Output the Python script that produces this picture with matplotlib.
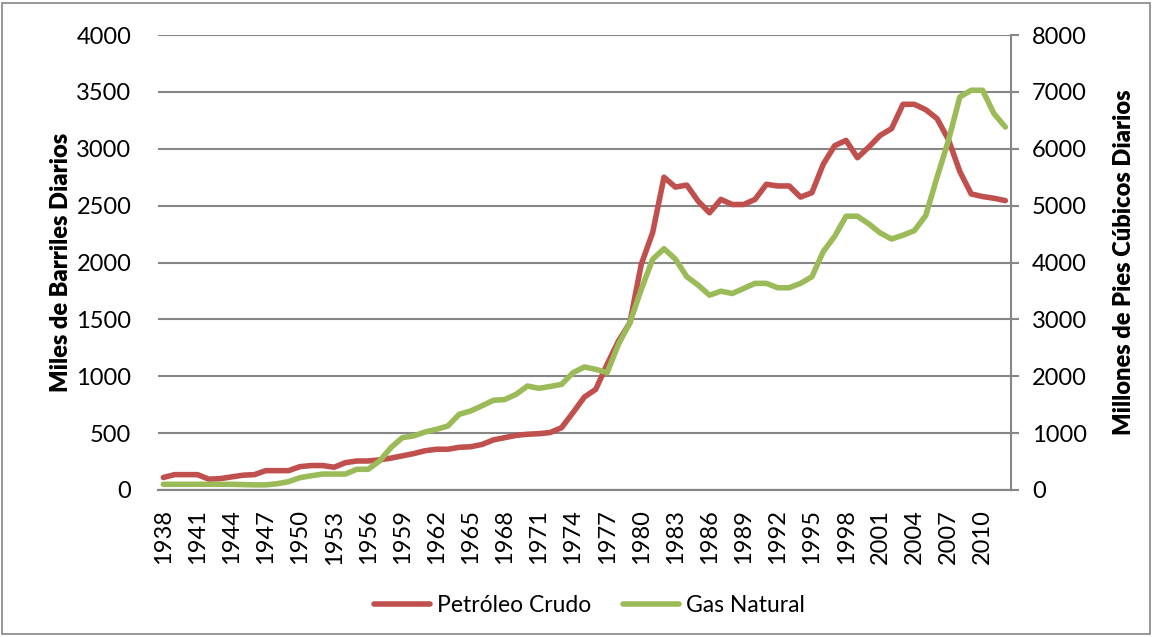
import matplotlib
matplotlib.use("Agg")
import matplotlib.pyplot as plt
from matplotlib.patches import Rectangle

# Años 1938-2012
years = list(range(1938, 2013))

# Petróleo crudo, miles de barriles diarios (eje izquierdo)
petroleo = [110, 135, 135, 135, 95, 100, 115, 130, 135, 170,
            170, 170, 205, 215, 215, 200, 240, 255, 255, 265,
            280, 300, 320, 345, 358, 358, 375, 380, 400, 440,
            460, 480, 490, 495, 505, 548, 680, 817, 885, 1105,
            1310, 1470, 1984, 2262, 2750, 2663, 2681, 2540, 2437, 2555,
            2510, 2510, 2555, 2688, 2673, 2673, 2575, 2614, 2865, 3027,
            3074, 2921, 3015, 3118, 3177, 3391, 3391, 3344, 3265, 3080,
            2800, 2603, 2580, 2565, 2544]

# Gas natural, millones de pies cúbicos diarios (eje derecho)
gas = [100, 100, 100, 100, 100, 100, 100, 95, 90, 90,
       110, 146, 216, 250, 280, 280, 280, 364, 364, 510,
       744, 920, 950, 1020, 1067, 1125, 1331, 1389, 1480, 1577,
       1590, 1682, 1828, 1788, 1820, 1858, 2062, 2162, 2122, 2062,
       2562, 2941, 3528, 4056, 4243, 4060, 3750, 3603, 3425, 3496,
       3455, 3544, 3633, 3633, 3556, 3556, 3633, 3750, 4194, 4460,
       4814, 4814, 4680, 4520, 4413, 4480, 4560, 4824, 5500, 6147,
       6912, 7029, 7029, 6618, 6382]

rojo = '#C0504D'
verde = '#9BBB59'
gris = '#868686'
fuente = 'Lato'

plt.rcParams['font.family'] = [fuente, 'DejaVu Sans']

fig = plt.figure(figsize=(11.56, 6.37), dpi=100)
ax = fig.add_axes([0.1364, 0.2308, 0.7382, 0.7142])
ax2 = ax.twinx()

x = list(range(len(years)))
l1, = ax.plot(x, petroleo, color=rojo, lw=4, solid_capstyle='round',
              solid_joinstyle='round', label='Petróleo Crudo')
l2, = ax2.plot(x, gas, color=verde, lw=4, solid_capstyle='round',
               solid_joinstyle='round', label='Gas Natural')

ax.set_xlim(-0.5, len(years) - 0.5)
ax.set_ylim(0, 4000)
ax2.set_ylim(0, 8000)
ax.set_yticks(range(0, 4001, 500))
ax2.set_yticks(range(0, 8001, 1000))
ax.set_xticks(x[::3])
ax.set_xticklabels([str(y) for y in years[::3]], rotation=90)

ax.grid(axis='y', color=gris, lw=1.5)
ax.set_axisbelow(True)

for a in (ax, ax2):
    for s in ('top', 'left', 'right'):
        a.spines[s].set_visible(False)
    a.spines['bottom'].set_color(gris)
    a.spines['bottom'].set_linewidth(1.5)
ax2.spines['right'].set_visible(True)
ax2.spines['right'].set_color(gris)
ax2.spines['right'].set_linewidth(1.5)

ax.tick_params(axis='y', length=0, labelsize=17, pad=19)
ax.tick_params(axis='x', length=0, labelsize=17, pad=14)
ax2.tick_params(axis='y', length=6, width=1.5, color=gris, labelsize=17, pad=9)

ax.set_ylabel('Miles de Barriles Diarios', fontsize=17, fontweight='heavy', labelpad=3)
ax2.set_ylabel('Millones de Pies Cúbicos Diarios', fontsize=17, fontweight='heavy', labelpad=19)

fig.legend(handles=[l1, l2], loc='center', bbox_to_anchor=(0.51, 0.05), ncol=2,
           frameon=False, fontsize=16.5, handlelength=2.45, columnspacing=1.4,
           handletextpad=0.3)

# borde exterior del gráfico
fig.patches.append(Rectangle((0.002, 0.004), 0.993, 0.992, transform=fig.transFigure,
                             fill=False, edgecolor=gris, lw=1.2))

fig.savefig('out.png', dpi=100)
